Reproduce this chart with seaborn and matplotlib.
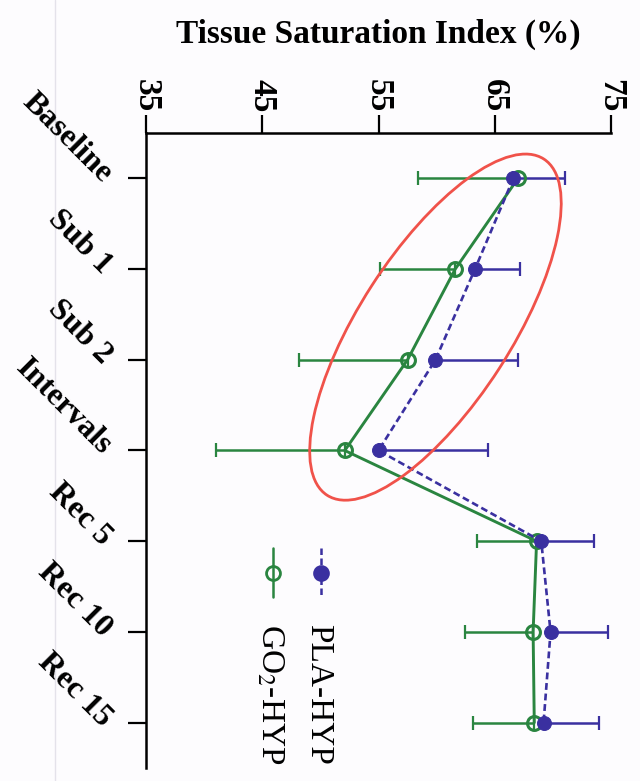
import numpy as np
import pandas as pd
import seaborn as sns
import matplotlib
matplotlib.use("Agg")
import matplotlib.pyplot as plt
from matplotlib.lines import Line2D
from matplotlib.patches import Ellipse
from matplotlib.transforms import IdentityTransform

# Time points of the protocol
categories = ["Baseline", "Sub 1", "Sub 2", "Intervals", "Rec 5", "Rec 10", "Rec 15"]

# Tissue saturation index (%) per condition, mean and SD
pla_mean = [66.6, 63.3, 59.9, 55.0, 69.0, 69.8, 69.2]
pla_sd = [4.4, 3.9, 7.1, 9.4, 4.5, 4.9, 4.8]
go2_mean = [67.0, 61.6, 57.5, 52.1, 68.6, 68.3, 68.4]
go2_sd = [8.6, 6.5, 9.3, 11.1, 5.1, 5.9, 5.3]

x_ticks = [35, 45, 55, 65, 75]

GREEN = "#2a8540"
BLUE = "#3a30a0"
RED = "#f0524a"
BG = "#fdfcfe"

sns.set_theme(style="ticks")
plt.rcParams["font.family"] = ["Liberation Serif", "DejaVu Serif"]
plt.rcParams["mathtext.fontset"] = "stix"
for key in ("text.color", "axes.labelcolor", "xtick.color", "ytick.color",
            "xtick.labelcolor", "ytick.labelcolor"):
    plt.rcParams[key] = "black"

fig = plt.figure(figsize=(6.4, 7.81), dpi=100, facecolor=BG)
ax = fig.add_axes([146 / 640, 1 - 768 / 781, (611 - 146) / 640, (768 - 133) / 781])
ax.set_facecolor(BG)

# faint vertical crease on the left of the page
fig.add_artist(Line2D([55 / 640, 55 / 640], [0, 1], transform=fig.transFigure,
                      color="#e4e2ea", lw=1.0, zorder=0))

pos = np.arange(len(categories))
df = pd.DataFrame({
    "pos": np.concatenate([pos, pos]),
    "tsi": pla_mean + go2_mean,
    "group": ["PLA-HYP"] * len(pos) + ["GO2-HYP"] * len(pos),
})

# One-sided SD bars: GO2 downward, PLA upward
ax.errorbar(go2_mean, pos, xerr=[go2_sd, [0] * len(pos)], fmt="none",
            ecolor=GREEN, elinewidth=1.8, capsize=4.8, capthick=1.6, zorder=2)
ax.errorbar(pla_mean, pos, xerr=[[0] * len(pos), pla_sd], fmt="none",
            ecolor=BLUE, elinewidth=1.8, capsize=4.8, capthick=1.6, zorder=2)

sub = df[df.group == "GO2-HYP"]
sns.lineplot(data=sub, x="tsi", y="pos", orient="y", sort=False, ax=ax,
             color=GREEN, lw=2.1, marker="o", markersize=10,
             markerfacecolor="none", markeredgecolor=GREEN, markeredgewidth=2.2,
             zorder=3)
sub = df[df.group == "PLA-HYP"]
sns.lineplot(data=sub, x="tsi", y="pos", orient="y", sort=False, ax=ax,
             color=BLUE, lw=1.9, marker="o", markersize=10,
             markerfacecolor=BLUE, markeredgecolor=BLUE,
             dashes=False, linestyle=(0, (2.6, 1.4)), zorder=4)

ax.set_xlim(35, 75)
ax.set_ylim(6.5, -0.5)

ax.xaxis.tick_top()
ax.xaxis.set_label_position("top")
ax.set_xticks(x_ticks)
ax.set_xticklabels([str(v) for v in x_ticks], rotation=-90, fontsize=24,
                   fontweight="bold", va="bottom", ha="center")
ax.set_yticks(pos)
ax.set_yticklabels(categories, rotation=-45, fontsize=23, fontweight="bold",
                   ha="right", va="center", rotation_mode="anchor")
ax.set_xlabel("Tissue Saturation Index (%)", fontsize=24, fontweight="bold",
              labelpad=26)
ax.set_ylabel("")

for side in ("right", "bottom"):
    ax.spines[side].set_visible(False)
for side in ("top", "left"):
    ax.spines[side].set_linewidth(1.8)
    ax.spines[side].set_color("black")
ax.tick_params(axis="both", direction="out", length=13, width=1.6,
               colors="black")
ax.tick_params(axis="x", pad=2)
ax.tick_params(axis="y", pad=15)

# Highlight around the exercise phase
ell_center = (59.9, 1.64)
cx, cy = ax.transData.transform(ell_center)
ax.add_patch(Ellipse((cx, cy), width=400, height=152, angle=57.2,
                     transform=IdentityTransform(), fill=False,
                     edgecolor=RED, lw=2.0, zorder=5, clip_on=False))

# Legend drawn in the same rotated orientation as the rest of the chart
legend_items = [
    (321 / 640, dict(color=BLUE, ls=(0, (2.6, 1.4)), mfc=BLUE, mec=BLUE), "PLA-HYP"),
    (273 / 640, dict(color=GREEN, ls="-", mfc="none", mec=GREEN), r"GO$_2$-HYP"),
]
for fx, style, label in legend_items:
    y0, y1 = 1 - 548 / 781, 1 - 597 / 781
    fig.add_artist(Line2D([fx, fx], [y0, y1], transform=fig.transFigure,
                          color=style["color"], ls=style["ls"], lw=1.8))
    fig.add_artist(Line2D([fx], [(y0 + y1) / 2], transform=fig.transFigure,
                          marker="o", markersize=10, mfc=style["mfc"],
                          mec=style["mec"], mew=2.0, ls="none"))
    fig.text(fx - 3 / 640, 1 - 624 / 781, label, rotation=-90, fontsize=24,
             ha="left", va="center", rotation_mode="anchor", color="black")

fig.savefig("out.png", dpi=100, facecolor=BG)
